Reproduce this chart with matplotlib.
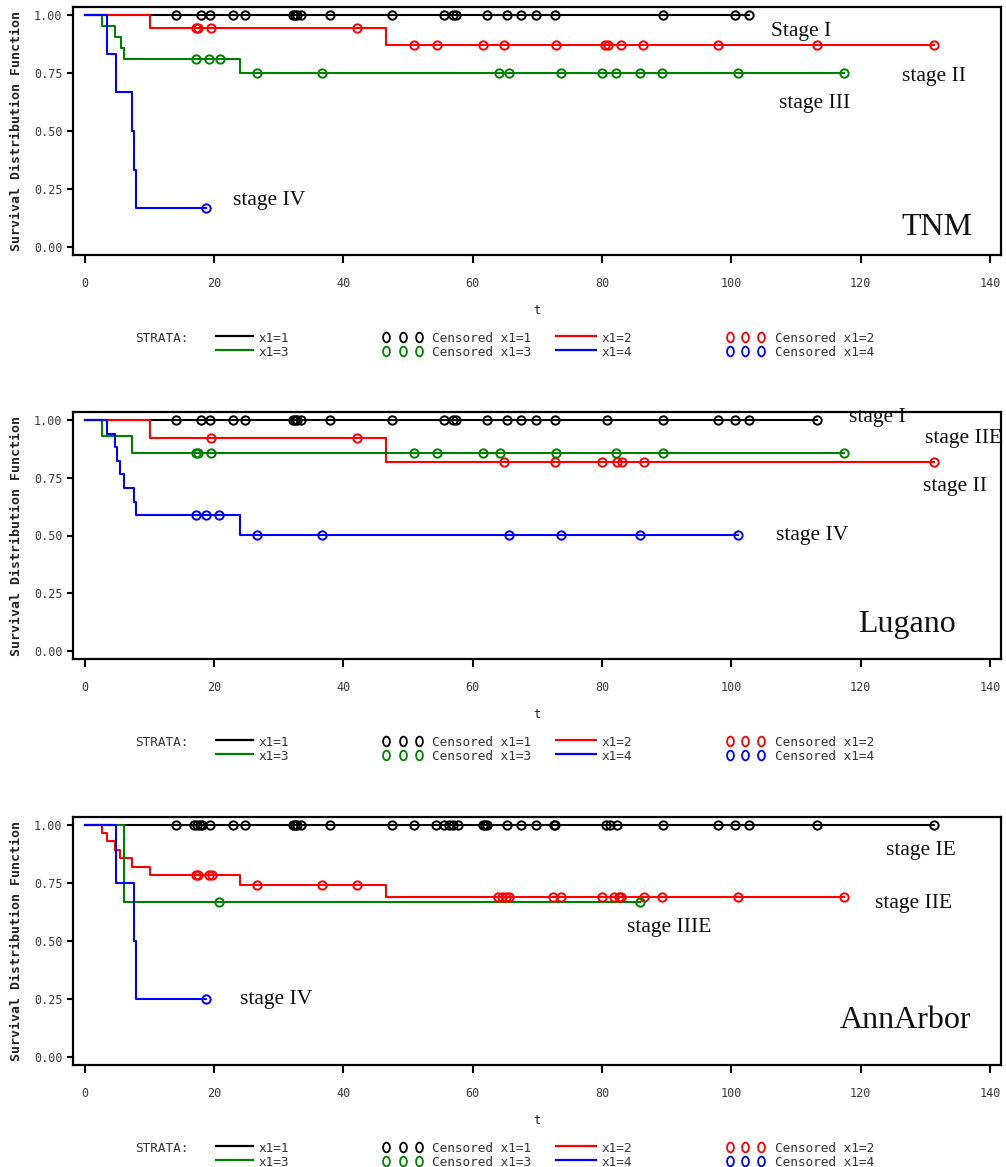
import numpy as np
import matplotlib
matplotlib.use("Agg")
import matplotlib.pyplot as plt
from matplotlib.lines import Line2D
from matplotlib.path import Path
from matplotlib.transforms import Affine2D

# ---------------- data ----------------
x_ticks = [0, 20, 40, 60, 80, 100, 120, 140]
y_ticks = [0.00, 0.25, 0.50, 0.75, 1.00]
y_tick_labels = ["0.00", "0.25", "0.50", "0.75", "1.00"]
strata_labels = ["x1=1", "x1=2", "x1=3", "x1=4"]
strata_colors = ["#000000", "#ff0000", "#008000", "#0000ff"]

# TNM
tnm1_drop_t = []
tnm1_drop_s = []
tnm1_cens = [14.2, 18.0, 19.4, 22.9, 24.8, 32.2, 32.5, 32.9, 33.4, 37.9, 47.5, 55.6,
             56.9, 57.4, 62.2, 65.3, 67.5, 69.8, 72.7, 89.4, 100.5, 102.8]
tnm2_drop_t = [10.1, 46.6]
tnm2_drop_s = [0.944, 0.872]
tnm2_cens = [17.3, 17.6, 19.6, 42.1, 50.9, 54.5, 61.6, 64.8, 72.9, 80.5, 81.0, 83.0,
             86.4, 97.9, 113.2, 131.4]
tnm3_drop_t = [2.7, 4.7, 5.6, 6.1, 24.0]
tnm3_drop_s = [0.952, 0.905, 0.857, 0.810, 0.752]
tnm3_cens = [17.3, 19.3, 20.9, 26.6, 36.7, 64.1, 65.7, 73.7, 80.0, 82.2, 85.9, 89.3,
             101.0, 117.5]
tnm4_drop_t = [3.5, 4.9, 7.3, 7.6, 7.9]
tnm4_drop_s = [0.833, 0.667, 0.500, 0.333, 0.167]
tnm4_cens = [18.8]
tnm_labels = ["Stage I", "stage II", "stage III", "stage IV"]
tnm_label_t = [110.8, 131.4, 112.9, 28.6]
tnm_label_s = [0.909, 0.716, 0.598, 0.181]

# Lugano
lug1_drop_t = []
lug1_drop_s = []
lug1_cens = [14.2, 18.0, 19.4, 22.9, 24.8, 32.2, 32.5, 32.9, 33.4, 37.9, 47.5, 55.6,
             56.9, 57.4, 62.2, 65.3, 67.5, 69.8, 72.7, 80.8, 89.4, 97.9, 100.5, 102.7,
             113.2]
lug2_drop_t = [10.1, 46.6]
lug2_drop_s = [0.920, 0.820]
lug2_cens = [19.5, 42.1, 64.8, 72.7, 80.0, 82.3, 83.1, 86.5, 131.4]
lug3_drop_t = [2.7, 7.3]
lug3_drop_s = [0.929, 0.857]
lug3_cens = [17.3, 17.6, 19.5, 50.9, 54.5, 61.6, 64.2, 72.9, 82.2, 89.4, 117.4]
lug4_drop_t = [3.5, 4.7, 5.0, 5.5, 6.1, 7.6, 7.9, 24.0]
lug4_drop_s = [0.941, 0.882, 0.824, 0.765, 0.706, 0.647, 0.588, 0.504]
lug4_cens = [17.3, 18.8, 20.8, 26.6, 36.7, 65.6, 73.7, 85.9, 101.1]
lug_labels = ["stage I", "stage IIE", "stage II", "stage IV"]
lug_label_t = [122.6, 135.9, 134.6, 112.5]
lug_label_s = [0.993, 0.902, 0.694, 0.480]

# Ann Arbor
ann1_drop_t = []
ann1_drop_s = []
ann1_cens = [14.2, 17.0, 17.4, 17.8, 18.2, 19.4, 22.9, 24.8, 32.2, 32.5, 32.9, 33.4,
             37.9, 47.5, 50.9, 54.4, 55.6, 56.3, 56.9, 57.7, 61.6, 61.9, 62.2, 65.3,
             67.5, 69.8, 72.6, 72.8, 80.6, 81.2, 82.3, 89.4, 97.9, 100.5, 102.7,
             113.2, 131.4]
ann2_drop_t = [2.7, 3.5, 4.7, 5.5, 7.3, 10.1, 24.0, 46.6]
ann2_drop_s = [0.964, 0.929, 0.893, 0.857, 0.821, 0.786, 0.742, 0.689]
ann2_cens = [17.2, 17.6, 19.3, 19.7, 26.6, 36.7, 42.1, 64.0, 64.6, 65.2, 65.7, 72.4,
             73.7, 80.0, 81.9, 82.6, 83.0, 86.5, 89.3, 101.0, 117.5]
ann3_drop_t = [6.1]
ann3_drop_s = [0.667]
ann3_cens = [20.8, 85.9]
ann4_drop_t = [4.9, 7.6, 7.9]
ann4_drop_s = [0.75, 0.50, 0.25]
ann4_cens = [18.8]
ann_labels = ["stage IE", "stage IIE", "stage IIIE", "stage IV"]
ann_label_t = [129.3, 128.2, 90.4, 29.7]
ann_label_s = [0.871, 0.644, 0.540, 0.227]

panel_names = ["TNM", "Lugano", "AnnArbor"]
panel_name_t = [131.8, 127.2, 127.0]
panel_name_s = [0.052, 0.082, 0.124]

# ---------------- figure ----------------
W, H = 1006, 1167
fig = plt.figure(figsize=(W / 100, H / 100), dpi=100)
fig.patch.set_facecolor("white")

def fx(px):
    return px / W

def fy(py):
    return 1 - py / H

mono = "DejaVu Sans Mono"
serif = "Liberation Serif"
tick_color = "#3a3a3a"

ell = Path.unit_circle().transformed(Affine2D().scale(0.7, 1.0))

panels = [
    dict(top=7, bottom=255,
         curves=[(tnm1_drop_t, tnm1_drop_s, tnm1_cens), (tnm2_drop_t, tnm2_drop_s, tnm2_cens),
                 (tnm3_drop_t, tnm3_drop_s, tnm3_cens), (tnm4_drop_t, tnm4_drop_s, tnm4_cens)],
         labels=tnm_labels, lt=tnm_label_t, ls=tnm_label_s),
    dict(top=412, bottom=659,
         curves=[(lug1_drop_t, lug1_drop_s, lug1_cens), (lug2_drop_t, lug2_drop_s, lug2_cens),
                 (lug3_drop_t, lug3_drop_s, lug3_cens), (lug4_drop_t, lug4_drop_s, lug4_cens)],
         labels=lug_labels, lt=lug_label_t, ls=lug_label_s),
    dict(top=817, bottom=1065,
         curves=[(ann1_drop_t, ann1_drop_s, ann1_cens), (ann2_drop_t, ann2_drop_s, ann2_cens),
                 (ann3_drop_t, ann3_drop_s, ann3_cens), (ann4_drop_t, ann4_drop_s, ann4_cens)],
         labels=ann_labels, lt=ann_label_t, ls=ann_label_s),
]

left_px, right_px = 73, 1001

for pi, p in enumerate(panels):
    ax = fig.add_axes([fx(left_px), fy(p["bottom"]), (right_px - left_px) / W,
                       (p["bottom"] - p["top"]) / H])
    ax.set_xlim(-1.78, 141.7)
    ax.set_ylim(-0.0345, 1.0345)

    for (dt, ds, ct), col in zip(p["curves"], strata_colors):
        last = max(ct + dt)
        xs = np.array([0.0] + list(dt) + [last])
        ys = np.array([1.0] + list(ds) + [ds[-1] if ds else 1.0])
        ax.step(xs, ys, where="post", color=col, lw=1.5, zorder=3)
        ct = np.array(ct)
        idx = np.searchsorted(xs, ct, side="right") - 1
        ax.plot(ct, ys[idx], linestyle="none", marker="o", ms=6, mfc="none",
                mec=col, mew=1.4, zorder=4)

    for lab, t, s in zip(p["labels"], p["lt"], p["ls"]):
        ax.text(t, s, lab, ha="center", va="baseline", fontsize=15.5,
                family=serif, color="#111111", zorder=5, clip_on=False)
    ax.text(panel_name_t[pi], panel_name_s[pi], panel_names[pi], ha="center",
            va="baseline", fontsize=23, family=serif, color="#111111", zorder=5)

    ax.set_xticks(x_ticks)
    ax.set_xticklabels([str(v) for v in x_ticks], family=mono, fontsize=8.5,
                       color=tick_color)
    ax.set_yticks(y_ticks)
    ax.set_yticklabels(y_tick_labels, family=mono, fontsize=8.5, color=tick_color)
    ax.tick_params(axis="x", direction="out", length=6, width=1.5, pad=10)
    ax.tick_params(axis="y", direction="out", length=4, width=1.5, pad=3.5)
    for sp in ax.spines.values():
        sp.set_linewidth(1.6)
        sp.set_color("black")

    # y label
    ymid = (p["top"] + p["bottom"]) / 2
    fig.text(fx(16.5), fy(ymid), "Survival Distribution Function", rotation=90,
             ha="center", va="center", family=mono, fontweight="bold",
             fontsize=9.5, color="#222222")
    # x label
    b = p["bottom"]
    fig.text(fx(537), fy(b + 55), "t", ha="center", va="center", family=mono,
             fontsize=8.5, color="#222222")

    # legend (SAS style)
    r1 = b + 83
    r2 = b + 97
    leg_kw = dict(family=mono, fontsize=9.2, color="#333333", va="center")
    fig.text(fx(135), fy(r1), "STRATA:", **leg_kw)
    rows = [(r1, 0, 1), (r2, 2, 3)]
    for ry, a, c in rows:
        for k, (lx0, lx1, tx, mx, ctx) in zip(
                (a, c), ((216, 253, 259, (386, 403, 419), 432),
                         (556, 596, 602, (730, 745, 761), 775))):
            col = strata_colors[k]
            fig.add_artist(Line2D([fx(lx0), fx(lx1)], [fy(ry - 2), fy(ry - 2)],
                                  transform=fig.transFigure, color=col, lw=1.6))
            fig.text(fx(tx), fy(ry), strata_labels[k], **leg_kw)
            fig.add_artist(Line2D([fx(m) for m in mx], [fy(ry - 1)] * 3,
                                  transform=fig.transFigure, linestyle="none",
                                  marker=ell, ms=7, mfc="none", mec=col, mew=1.3))
            fig.text(fx(ctx), fy(ry), "Censored " + strata_labels[k], **leg_kw)

fig.savefig("out.png", dpi=100, facecolor="white")
